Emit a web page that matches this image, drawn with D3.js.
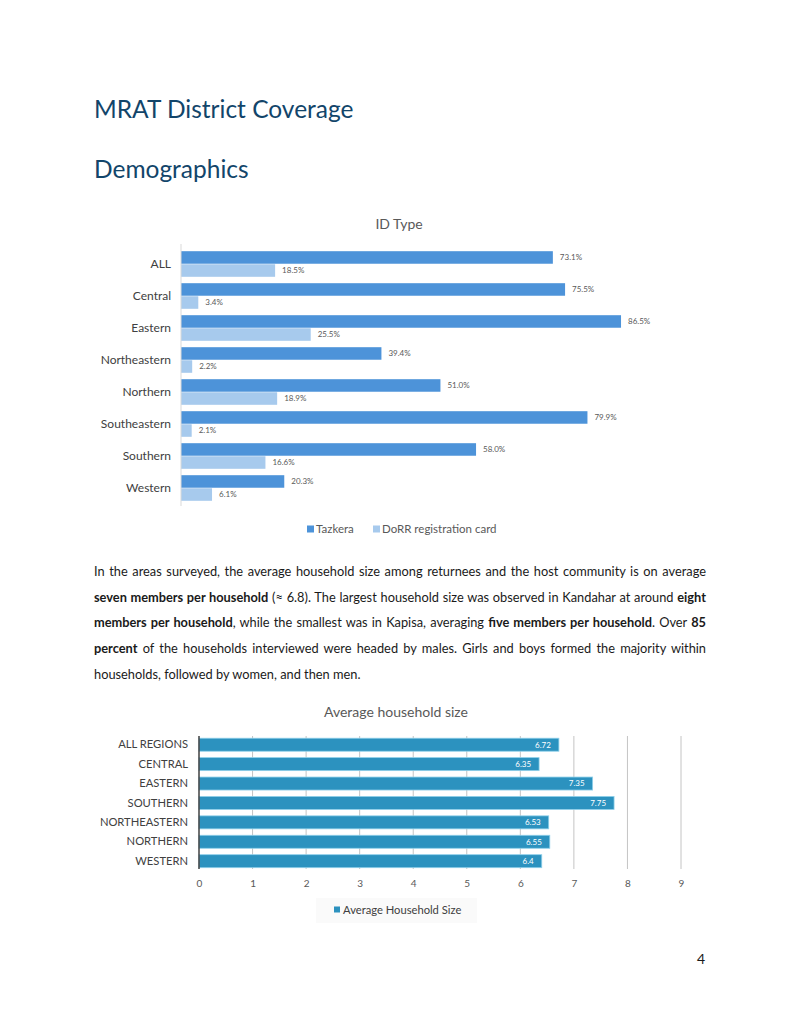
<!DOCTYPE html>
<html>
<head>
<meta charset="utf-8">
<script src="https://cdn.jsdelivr.net/npm/d3@7"></script>
<style>
  body { margin: 0; background: #fff; }
  #page { position: relative; width: 800px; height: 1035px; overflow: hidden; }
  svg { position: absolute; left: 0; top: 0; }
  #para { position: absolute; left: 94px; top: 559px; width: 612px;
          font-family: Lato, "Noto Sans", sans-serif; font-size: 12.8px; color: #1a1a1a; }
  #para div { height: 25.7px; line-height: 25.7px; white-space: nowrap; }
  #para div.j { text-align: justify; text-align-last: justify; white-space: normal; }
  #para b { font-weight: 700; }
</style>
</head>
<body>
<div id="page"></div>
<script>
var width = 800
height = 1035

// ID Type chart data
var regions = ["ALL", "Central", "Eastern", "Northeastern", "Northern", "Southeastern", "Southern", "Western"]
var tazkera = [73.1, 75.5, 86.5, 39.4, 51.0, 79.9, 58.0, 20.3]
var dorr = [18.5, 3.4, 25.5, 2.2, 18.9, 2.1, 16.6, 6.1]
var seriesNames = ["Tazkera", "DoRR registration card"]

// Household size chart data
var hhRegions = ["ALL REGIONS", "CENTRAL", "EASTERN", "SOUTHERN", "NORTHEASTERN", "NORTHERN", "WESTERN"]
var hhSize = [6.72, 6.35, 7.35, 7.75, 6.53, 6.55, 6.4]
var hhTicks = [0, 1, 2, 3, 4, 5, 6, 7, 8, 9]

var font = "Lato, 'Noto Sans', sans-serif"

var page = d3.select("#page")
var svg = page.append("svg")
    .attr("width", width)
    .attr("height", height)
    .style("font-family", font)

// headings
svg.append("text").attr("x", 94).attr("y", 118)
    .attr("font-size", 24.5).attr("fill", "#12456a").text("MRAT District Coverage")
svg.append("text").attr("x", 94).attr("y", 178)
    .attr("font-size", 24.5).attr("fill", "#12456a").text("Demographics")

// ---------- chart 1: ID Type ----------
svg.append("text").attr("x", 399).attr("y", 229).attr("text-anchor", "middle")
    .attr("font-size", 14).attr("fill", "#595959").text("ID Type")

var x1 = d3.scaleLinear().domain([0, 100]).range([181, 181 + 508.7])
var y1 = d3.scaleBand().domain(regions).range([248, 504]).paddingInner(0.2).paddingOuter(0.1)
var sub = d3.scaleBand().domain(seriesNames).range([0, y1.bandwidth()]).paddingInner(0.04)
var color1 = d3.scaleOrdinal().domain(seriesNames).range(["#4d93d9", "#a7caed"])

var rows = regions.map(function(r, i) {
    return {region: r, values: [
        {key: seriesNames[0], value: tazkera[i]},
        {key: seriesNames[1], value: dorr[i]}
    ]}
})

var g1 = svg.selectAll("g.row1").data(rows).enter().append("g")
    .attr("class", "row1")
    .attr("transform", function(d) { return "translate(0," + y1(d.region) + ")" })

g1.selectAll("rect").data(function(d) { return d.values }).enter().append("rect")
    .attr("x", x1(0))
    .attr("y", function(d) { return sub(d.key) })
    .attr("width", function(d) { return x1(d.value) - x1(0) })
    .attr("height", sub.bandwidth())
    .attr("fill", function(d) { return color1(d.key) })

g1.selectAll("text").data(function(d) { return d.values }).enter().append("text")
    .attr("x", function(d) { return x1(d.value) + 7 })
    .attr("y", function(d) { return sub(d.key) + sub.bandwidth() / 2 })
    .attr("dy", "0.35em")
    .attr("font-size", 8).attr("fill", "#595959")
    .text(function(d) { return d.value.toFixed(1) + "%" })

var ax1 = svg.append("g").attr("transform", "translate(181,0)")
    .call(d3.axisLeft(y1).tickSize(0).tickPadding(10))
ax1.select(".domain").attr("stroke", "#d9d9d9").attr("d", "M0,244V506")
ax1.selectAll("text").attr("font-size", 12).attr("fill", "#404040").attr("font-family", font)

// legend 1
var leg1 = svg.append("g").selectAll("g").data(seriesNames).enter().append("g")
    .attr("transform", function(d, i) { return "translate(" + [307, 373][i] + ",529)" })
leg1.append("rect").attr("x", 0).attr("y", -3.5).attr("width", 7).attr("height", 7)
    .attr("fill", function(d) { return color1(d) })
leg1.append("text").attr("x", 9).attr("dy", "0.35em").attr("font-size", 11.5)
    .attr("fill", "#595959").text(function(d) { return d })

// ---------- chart 2: Average household size ----------
svg.append("text").attr("x", 396).attr("y", 717).attr("text-anchor", "middle")
    .attr("font-size", 14).attr("fill", "#595959").text("Average household size")

var x2 = d3.scaleLinear().domain([0, 9]).range([199, 681])
var y2 = d3.scaleBand().domain(hhRegions).range([735.3, 870.6]).paddingInner(0.33).paddingOuter(0.15)

// grid
svg.append("g").selectAll("line").data(hhTicks.slice(1)).enter().append("line")
    .attr("x1", function(d) { return x2(d) }).attr("x2", function(d) { return x2(d) })
    .attr("y1", 736).attr("y2", 869)
    .attr("stroke", "#c4c4c4").attr("stroke-width", 1)

svg.append("g").selectAll("rect").data(hhRegions).enter().append("rect")
    .attr("x", x2(0))
    .attr("y", function(d) { return y2(d) })
    .attr("width", function(d, i) { return x2(hhSize[i]) - x2(0) })
    .attr("height", y2.bandwidth())
    .attr("fill", "#2c92bf")
    .attr("stroke", "#8fd0ea").attr("stroke-width", 0.8)

svg.append("g").selectAll("text").data(hhRegions).enter().append("text")
    .attr("x", function(d, i) { return x2(hhSize[i]) - 8 })
    .attr("y", function(d) { return y2(d) + y2.bandwidth() / 2 })
    .attr("dy", "0.35em").attr("text-anchor", "end")
    .attr("font-size", 8).attr("fill", "#ffffff")
    .text(function(d, i) { return String(hhSize[i]) })

var ax2 = svg.append("g").attr("transform", "translate(199,0)")
    .call(d3.axisLeft(y2).tickSize(0).tickPadding(11))
ax2.select(".domain").attr("stroke", "#404040").attr("stroke-width", 1.5).attr("d", "M0,736V869")
ax2.selectAll("text").attr("font-size", 11.2).attr("fill", "#404040").attr("font-family", font)

var xa2 = svg.append("g").attr("transform", "translate(0,880)")
    .call(d3.axisBottom(x2).tickValues(hhTicks).tickSize(0).tickPadding(0))
xa2.select(".domain").remove()
xa2.selectAll("text").attr("font-size", 10).attr("fill", "#595959").attr("font-family", font)

// legend 2
svg.append("rect").attr("x", 316).attr("y", 898).attr("width", 161).attr("height", 25).attr("fill", "#fafafa")
svg.append("rect").attr("x", 334).attr("y", 906.5).attr("width", 6).attr("height", 6).attr("fill", "#2c92bf")
svg.append("text").attr("x", 343).attr("y", 910).attr("dy", "0.35em").attr("font-size", 11.2)
    .attr("fill", "#404040").text("Average Household Size")

// page number
svg.append("text").attr("x", 705).attr("y", 964).attr("text-anchor", "end")
    .attr("font-size", 14).attr("fill", "#1a1a1a").text("4")

// paragraph
var lines = [
    ["j", "In the areas surveyed, the average household size among returnees and the host community is on average"],
    ["j", "<b>seven members per household</b> (≈ 6.8). The largest household size was observed in Kandahar at around <b>eight</b>"],
    ["j", "<b>members per household</b>, while the smallest was in Kapisa, averaging <b>five members per household</b>. Over <b>85</b>"],
    ["j", "<b>percent</b> of the households interviewed were headed by males. Girls and boys formed the majority within"],
    ["", "households, followed by women, and then men."]
]
page.append("div").attr("id", "para").selectAll("div").data(lines).enter().append("div")
    .attr("class", function(d) { return d[0] })
    .html(function(d) { return d[1] })
</script>
</body>
</html>
